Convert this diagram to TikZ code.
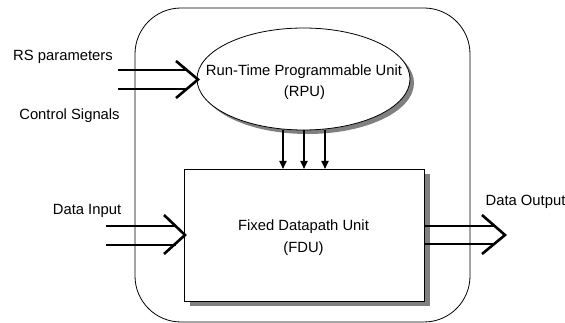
\documentclass[tikz,border=0pt]{standalone}
\usepackage{fontspec}
\setmainfont{Liberation Sans}
\usetikzlibrary{shapes.geometric,shadows,arrows.meta}
\begin{document}
\begin{tikzpicture}[x=1pt,y=-1pt,
  txt/.style={font=\fontsize{14.8}{21.5}\selectfont, inner sep=0pt, anchor=base},
  frame/.style={draw, line width=0.8pt, rounded corners=46pt},
  unitshape/.style={draw, line width=0.8pt, fill=white,
    drop shadow={shadow xshift=4pt, shadow yshift=-4pt, fill=black!50, opacity=1}},
  boxshape/.style={draw, line width=0.9pt, fill=white, inner sep=0pt,
    minimum width=240pt, minimum height=132pt,
    drop shadow={shadow xshift=6pt, shadow yshift=-5pt, fill=black!50, opacity=1}},
  bus/.style={line width=2.6pt},
  chev/.style={line width=2.6pt, line join=miter},
  ctl/.style={line width=1.8pt, -{Triangle[length=8pt,width=7pt]}}
]
\useasboundingbox (0,0) rectangle (565,323);

% enclosing frame
\draw[frame] (135,8) rectangle (470,322);

% run-time programmable unit
\node[ellipse, unitshape, minimum width=213pt, minimum height=102pt, inner sep=0pt] (rpu) at (303.5,79) {};
\node[txt] (rpuA) at (304,75.7) {Run-Time Programmable Unit};
\node[txt] (rpuB) at (304.5,97) {(RPU)};

% fixed datapath unit
\node[boxshape] (fdu) at (304,235) {};
\node[txt] (fduA) at (303.5,231) {Fixed Datapath Unit};
\node[txt] (fduB) at (303.5,253) {(FDU)};

% labels
\node[txt] (lrs) at (63,61) {RS parameters};
\node[txt] (lcs) at (69.5,120) {Control Signals};
\node[txt] (ldi) at (87,215) {Data Input};
\node[txt] (ldo) at (525.5,206) {Data Output};

% control arrows from RPU to FDU
\foreach \xx [count=\i] in {283,304,325} {
  \coordinate (cs\i) at (\xx,130);
  \coordinate (ce\i) at (\xx,169);
  \draw[ctl] (cs\i) -- (ce\i);
}

% RPU input bus
\coordinate (rA) at (118,70);
\coordinate (rB) at (118,89);
\coordinate (rT) at (198,79.5);
\coordinate (rU) at (176,61);
\coordinate (rL) at (176,98);
\draw[bus] (rA) -- (188,70);
\draw[bus] (rB) -- (188,89);
\draw[chev] (rU) -- (rT) -- (rL);

% data input bus
\coordinate (dA) at (106,226);
\coordinate (dB) at (106,245);
\coordinate (dT) at (185,235);
\coordinate (dU) at (164,215);
\coordinate (dL) at (164,254);
\draw[bus] (dA) -- (176,226);
\draw[bus] (dB) -- (176,245);
\draw[chev] (dU) -- (dT) -- (dL);

% data output bus
\coordinate (oT) at (505,235);
\coordinate (oU) at (482,215);
\coordinate (oL) at (482,254);
\draw[bus] (fdu.east |- 0,226) -- (495,226);
\draw[bus] (fdu.east |- 0,244) -- (495,244);
\draw[chev] (oU) -- (oT) -- (oL);
\end{tikzpicture}
\end{document}
